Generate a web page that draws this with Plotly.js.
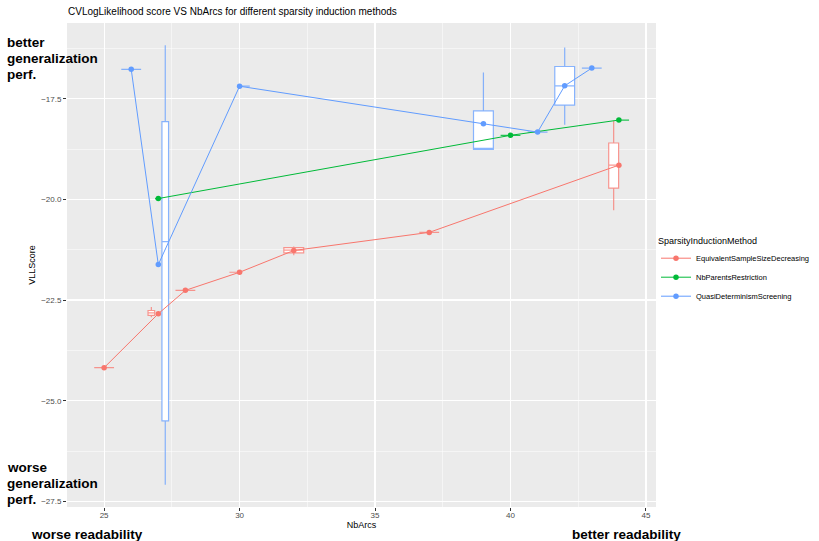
<!DOCTYPE html>
<html>
<head>
<meta charset="utf-8">
<script src="https://cdn.plot.ly/plotly-3.0.1.min.js"></script>
<style>html,body{margin:0;padding:0;background:#fff;}#chart{width:819px;height:541px;}</style>
</head>
<body>
<div id="chart"></div>
<script>
// ---- data ----
const methods = ['EquivalentSampleSizeDecreasing', 'NbParentsRestriction', 'QuasiDeterminismScreening'];
const colors = ['#F8766D', '#00BA38', '#619CFF'];
const boxLineColors = ['rgba(248,118,109,0.75)', 'rgba(0,186,56,0.85)', 'rgba(97,156,255,0.75)'];

// EquivalentSampleSizeDecreasing
const essX      = [25, 27, 28, 30, 32, 37, 44];
const essMean   = [-24.18, -22.84, -22.26, -21.81, -21.27, -20.82, -19.15];
const essQ1     = [-24.18, -22.88, -22.26, -21.81, -21.33, -20.82, -19.72];
const essMedian = [-24.18, -22.82, -22.26, -21.81, -21.26, -20.82, -19.15];
const essQ3     = [-24.18, -22.76, -22.26, -21.81, -21.20, -20.82, -18.60];
const essLow    = [-24.18, -22.93, -22.26, -21.81, -21.39, -20.82, -20.27];
const essHigh   = [-24.18, -22.67, -22.26, -21.81, -21.17, -20.82, -18.05];

// NbParentsRestriction
const npX      = [27, 40, 44];
const npMean   = [-19.98, -18.41, -18.03];
const npQ1     = [-19.98, -18.41, -18.03];
const npMedian = [-19.98, -18.41, -18.03];
const npQ3     = [-19.98, -18.41, -18.03];
const npLow    = [-19.98, -18.41, -18.03];
const npHigh   = [-19.98, -18.41, -18.03];

// QuasiDeterminismScreening
const qdX      = [26, 27, 30, 39, 41, 42, 43];
const qdMean   = [-16.77, -21.62, -17.19, -18.12, -18.33, -17.18, -16.74];
const qdQ1     = [-16.77, -25.50, -17.19, -18.76, -18.33, -17.66, -16.74];
const qdMedian = [-16.77, -21.05, -17.19, -18.76, -18.33, -17.18, -16.74];
const qdQ3     = [-16.77, -18.07, -17.19, -17.80, -18.33, -16.70, -16.74];
const qdLow    = [-16.77, -27.09, -17.19, -18.76, -18.33, -18.15, -16.74];
const qdHigh   = [-16.77, -16.17, -17.19, -16.85, -18.33, -16.23, -16.74];

const xTicks = [25, 30, 35, 40, 45];
const yTicks = [-27.5, -25.0, -22.5, -20.0, -17.5];

const series = [
  {x: essX, mean: essMean, q1: essQ1, med: essMedian, q3: essQ3, lo: essLow, hi: essHigh},
  {x: npX,  mean: npMean,  q1: npQ1,  med: npMedian,  q3: npQ3,  lo: npLow,  hi: npHigh},
  {x: qdX,  mean: qdMean,  q1: qdQ1,  med: qdMedian,  q3: qdQ3,  lo: qdLow,  hi: qdHigh}
];

// ---- dodge computation (like ggplot position_dodge2) ----
const W = 0.77;
const groupsAt = {};
series.forEach((s, si) => s.x.forEach(v => { (groupsAt[v] = groupsAt[v] || []).push(si); }));

const traces = [];
series.forEach((s, si) => {
  s.x.forEach((v, i) => {
    const g = groupsAt[v];
    const n = g.length, k = g.indexOf(si);
    const w = W / n;
    traces.push({
      type: 'box',
      x: [v + (k - (n - 1) / 2) * w],
      q1: [s.q1[i]], median: [s.med[i]], q3: [s.q3[i]],
      lowerfence: [s.lo[i]], upperfence: [s.hi[i]],
      width: w * 0.95,
      fillcolor: 'white',
      line: {color: boxLineColors[si], width: 1.2},
      whiskerwidth: 0,
      boxpoints: false,
      showlegend: false,
      hoverinfo: 'skip'
    });
  });
});
series.forEach((s, si) => {
  traces.push({
    type: 'scatter', mode: 'lines+markers',
    x: s.x, y: s.mean,
    name: methods[si],
    line: {color: colors[si], width: 1},
    marker: {color: colors[si], size: 5.5}
  });
});

const F = 'Liberation Sans, Arial, Helvetica, sans-serif';
const L = 67, R = 161, T = 23, B = 34;
const pw = 819 - L - R, ph = 541 - T - B;
const px = p => (p - L) / pw;
const py = p => (541 - B - p) / ph;

function boldLines(lines, xPix, yCenters, size) {
  return lines.map((t, i) => ({
    text: '<b>' + t + '</b>', xref: 'paper', yref: 'paper',
    x: px(xPix), y: py(yCenters[i]), xanchor: 'left', yanchor: 'middle', align: 'left',
    showarrow: false, borderpad: 0, font: {size: size, family: F, color: '#000'}
  }));
}

const annotations = []
  .concat(boldLines(['better', 'generalization', 'perf.'], 6, [42, 58, 74], 13.5))
  .concat(boldLines(['worse', 'generalization', 'perf.'], 6, [467, 483, 499], 13.5))
  .concat([
    {text: '<b>worse readability</b>', xref: 'paper', yref: 'paper',
     x: px(87), y: py(534), xanchor: 'center', yanchor: 'middle', showarrow: false, borderpad: 0,
     font: {size: 13.5, family: F, color: '#000'}},
    {text: '<b>better readability</b>', xref: 'paper', yref: 'paper',
     x: px(628), y: py(534), xanchor: 'center', yanchor: 'middle', showarrow: false, borderpad: 0,
     font: {size: 13.5, family: F, color: '#000'}}
  ]);

const layout = {
  width: 819, height: 541,
  margin: {l: L, r: R, t: T, b: B, pad: 0},
  paper_bgcolor: 'white',
  plot_bgcolor: '#EBEBEB',
  font: {family: F, color: '#000'},
  boxmode: 'overlay',
  title: {text: 'CVLogLikelihood score VS NbArcs for different sparsity induction methods',
          x: px(68), xref: 'paper', xanchor: 'left', y: 1 - 11 / 541, yanchor: 'middle',
          font: {size: 10, family: F, color: '#000'}},
  xaxis: {
    range: [23.63, 45.37], tickvals: xTicks, ticktext: xTicks.map(String),
    showgrid: true, gridcolor: 'white', gridwidth: 1.1, zeroline: false,
    ticks: 'outside', ticklen: 3, tickcolor: '#333', tickwidth: 1,
    ticklabelstandoff: -3,
    tickfont: {size: 8, color: '#4D4D4D', family: F},
    minor: {dtick: 2.5, tick0: 0, showgrid: true, gridcolor: 'white', gridwidth: 0.5, ticks: ''},
    title: {text: 'NbArcs', font: {size: 9, color: '#000', family: F}, standoff: 2},
    automargin: false
  },
  yaxis: {
    range: [-27.64, -15.62], tickvals: yTicks, ticktext: yTicks.map(v => v.toFixed(1).replace('-', '\u2212')),
    showgrid: true, gridcolor: 'white', gridwidth: 1.1, zeroline: false,
    ticks: 'outside', ticklen: 3, tickcolor: '#333', tickwidth: 1,
    tickfont: {size: 8, color: '#4D4D4D', family: F},
    minor: {dtick: 1.25, tick0: 0, showgrid: true, gridcolor: 'white', gridwidth: 0.5, ticks: ''},
    title: {text: 'VLLScore', font: {size: 9, color: '#000', family: F}, standoff: 4},
    automargin: false
  },
  legend: {
    xref: 'container', yref: 'container',
    x: 656 / 819, xanchor: 'left', y: 1 - 232 / 541, yanchor: 'top',
    bgcolor: 'rgba(0,0,0,0)',
    title: {text: 'SparsityInductionMethod', font: {size: 9, color: '#000', family: F}},
    font: {size: 7.5, color: '#000', family: F},
    itemwidth: 30, tracegroupgap: 0
  },
  annotations: annotations
};

Plotly.newPlot('chart', traces, layout, {staticPlot: true, displayModeBar: false});
</script>
</body>
</html>
